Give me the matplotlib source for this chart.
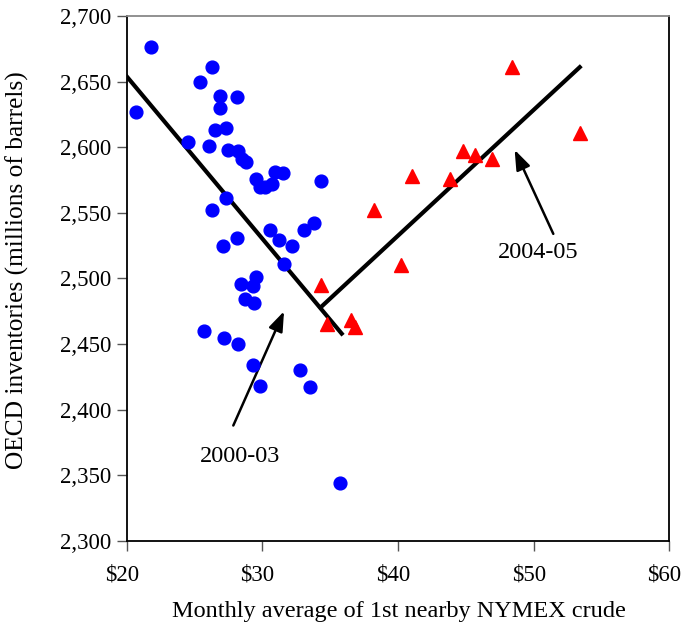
import numpy as np
from matplotlib import pyplot as plt
from matplotlib import transforms
from matplotlib.ticker import FuncFormatter

# 2000-03 monthly points: (crude price, OECD inventories)
price_0003 = [21.8, 26.3, 25.4, 26.9, 28.1, 26.9, 20.7, 26.5, 27.3, 24.5,
              26.1, 27.5, 28.2, 28.5, 28.8, 29.5, 29.8, 30.2, 30.7, 30.9,
              31.5, 34.3, 27.3, 26.3, 33.8, 33.1, 30.6, 31.2, 32.2, 28.1,
              27.1, 31.6, 29.5, 28.4, 29.3, 28.7, 29.4, 25.7, 27.2, 28.2,
              29.3, 32.8, 29.8, 33.5, 35.7]
stock_0003 = [2676, 2661, 2650, 2639, 2638, 2630, 2627, 2613, 2615, 2604,
              2601, 2598, 2597, 2591, 2589, 2576, 2570, 2570, 2572, 2581,
              2580, 2574, 2561, 2552, 2542, 2537, 2537, 2529, 2525, 2531,
              2525, 2511, 2501, 2496, 2494, 2484, 2481, 2460, 2455, 2450,
              2434, 2430, 2418, 2417, 2344]

# 2004-05 monthly points
price_0405 = [48.4, 53.4, 44.8, 45.7, 46.9, 41.0, 43.8, 38.2, 40.2, 34.3,
              34.8, 36.5, 36.8]
stock_0405 = [2661, 2611, 2597, 2594, 2591, 2578, 2576, 2552, 2510, 2495,
              2465, 2468, 2463]

# fitted trend lines (end points)
fit_0003_x = [20.0, 35.85]
fit_0003_y = [2654, 2458]
fit_0405_x = [34.3, 53.4]
fit_0405_y = [2478, 2661]

xticks = [20, 30, 40, 50, 60]
yticks = [2300, 2350, 2400, 2450, 2500, 2550, 2600, 2650, 2700]

plt.rcParams['font.family'] = ['Liberation Serif', 'DejaVu Serif']

fig = plt.figure(figsize=(6.84, 6.29), dpi=100)
ax = fig.add_axes([0.1852, 0.1399, 0.7933, 0.8347])

ax.plot(fit_0003_x, fit_0003_y, color='black', lw=3, zorder=3)
ax.plot(fit_0405_x, fit_0405_y, color='black', lw=3, zorder=3)
ax.plot(price_0003, stock_0003, 'o', color='#0000ff', ms=9.2, mec='#0000ff', zorder=4)
ax.plot(price_0405, stock_0405, '^', color='#ff0000', ms=10.5, mec='#ff0000', zorder=4)

arrow = dict(arrowstyle='-|>,head_length=0.6,head_width=0.22', color='black',
             lw=1.8, mutation_scale=20, shrinkA=0, shrinkB=0)
ax.annotate('', xy=(31.6, 2475), xytext=(27.86, 2388), arrowprops=arrow)
ax.text(28.35, 2364, '2000-03', ha='center', va='center', fontsize=17.5)
ax.annotate('', xy=(48.6, 2598), xytext=(51.45, 2534), arrowprops=arrow)
ax.text(50.35, 2520, '2004-05', ha='center', va='center', fontsize=17.5)

ax.set_xlim(20, 60)
ax.set_ylim(2300, 2700)
ax.set_xticks(xticks)
ax.set_yticks(yticks)
ax.xaxis.set_major_formatter(FuncFormatter(lambda v, p: '${:.0f}'.format(v)))
ax.yaxis.set_major_formatter(FuncFormatter(lambda v, p: '{:,.0f}'.format(v)))
ax.tick_params(axis='both', direction='out', length=7, width=1, labelsize=16.5,
               color='#555555', pad=4)
ax.tick_params(axis='x', pad=10)

# the x labels sit a little left of their ticks in the original
shift = transforms.ScaledTranslation(-5 / 100, 0, fig.dpi_scale_trans)
for lab in ax.get_xticklabels():
    lab.set_transform(lab.get_transform() + shift)

for s in ['left', 'bottom', 'right']:
    ax.spines[s].set_linewidth(1.3)
    ax.spines[s].set_color('black')
ax.spines['top'].set_color('#888888')
ax.spines['top'].set_linewidth(1.3)

fig.text(0.583, 1 - 612 / 629, 'Monthly average of 1st nearby NYMEX crude',
         ha='center', va='center', fontsize=17.5)
fig.text(17 / 684, 1 - 270 / 629,
         'OECD inventories (millions of barrels)',
         ha='center', va='center', rotation=90, fontsize=18.3)

fig.savefig('out.png', dpi=100)
